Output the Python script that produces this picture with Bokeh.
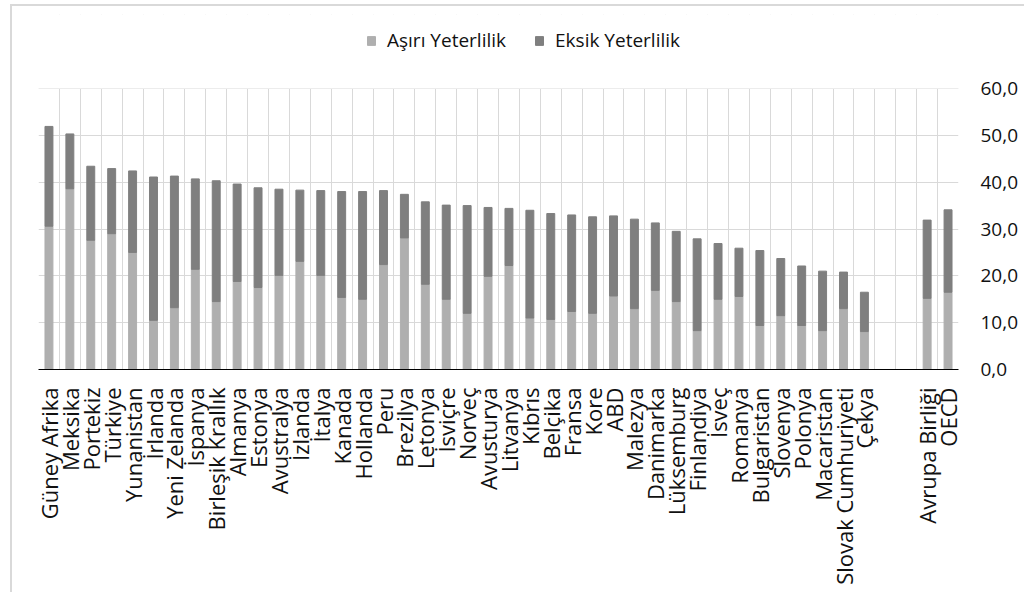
import math
from bokeh.plotting import figure
from bokeh.models import (FactorRange, Range1d, FixedTicker, Legend, LegendItem,
                          ColumnDataSource, BoxAnnotation)
from bokeh.embed import file_html
from bokeh.resources import INLINE

# ---- data -------------------------------------------------------------
countries = ["Güney Afrika", "Meksika", "Portekiz", "Türkiye", "Yunanistan",
             "İrlanda", "Yeni Zelanda", "İspanya", "Birleşik Krallık", "Almanya",
             "Estonya", "Avustralya", "İzlanda", "İtalya", "Kanada",
             "Hollanda", "Peru", "Brezilya", "Letonya", "İsviçre",
             "Norveç", "Avusturya", "Litvanya", "Kıbrıs", "Belçika",
             "Fransa", "Kore", "ABD", "Malezya", "Danimarka",
             "Lüksemburg", "Finlandiya", "İsveç", "Romanya", "Bulgaristan",
             "Slovenya", "Polonya", "Macaristan", "Slovak Cumhuriyeti", "Çekya"]
gap_slots = [" ", "  "]
aggregates = ["Avrupa Birliği", "OECD"]

asiri = [30.6, 38.6, 27.6, 29.0, 25.0,
         10.5, 13.2, 21.4, 14.5, 18.8,
         17.5, 20.1, 23.1, 20.1, 15.4,
         15.0, 22.4, 28.1, 18.2, 15.0,
         12.0, 19.9, 22.2, 11.0, 10.7,
         12.4, 12.0, 15.7, 13.0, 16.9,
         14.5, 8.3, 15.0, 15.6, 9.4,
         11.5, 9.4, 8.3, 13.0, 8.1,
         15.2, 16.5]
eksik = [21.3, 11.7, 15.8, 13.9, 17.4,
         30.6, 28.1, 19.3, 25.8, 20.8,
         21.3, 18.4, 15.2, 18.1, 22.6,
         23.0, 15.8, 9.3, 17.6, 20.1,
         23.0, 14.7, 12.2, 23.0, 22.6,
         20.6, 20.6, 17.1, 19.1, 14.4,
         15.0, 19.6, 11.9, 10.3, 16.0,
         12.2, 12.7, 12.7, 7.8, 8.4,
         16.7, 17.6]
series_names = ["Aşırı Yeterlilik", "Eksik Yeterlilik"]
series_colors = ["#afafaf", "#7f7f7f"]
y_ticks = [0, 10, 20, 30, 40, 50, 60]
y_tick_labels = ["0,0", "10,0", "20,0", "30,0", "40,0", "50,0", "60,0"]

# ---- layout constants -------------------------------------------------
FONT = "Open Sans"
FIG_W, FIG_H = 1014, 588
BORDER_L, BORDER_R, BORDER_T, BORDER_B = 26, 68, 8, 225
FRAME_H = FIG_H - BORDER_T - BORDER_B      # 355 px
AXIS_H = 281                               # px between 0 and the top tick
y_end = y_ticks[-1] * FRAME_H / AXIS_H     # headroom for the legend

factors = countries + gap_slots + aggregates
bar_labels = countries + aggregates

source = ColumnDataSource(dict(x=bar_labels, asiri=asiri, eksik=eksik))

p = figure(width=FIG_W, height=FIG_H, output_backend="svg", toolbar_location=None,
           x_range=FactorRange(factors=factors, range_padding=0),
           y_range=Range1d(y_ticks[0], y_end),
           y_axis_location="right",
           min_border_left=BORDER_L, min_border_right=BORDER_R,
           min_border_top=BORDER_T, min_border_bottom=BORDER_B)
p.outline_line_color = None
p.background_fill_color = "white"
p.border_fill_color = "white"
p.styles = {"margin-left": "10px", "margin-top": "4px",
            "border-top": "2px solid #d9d9d9", "border-left": "2px solid #d9d9d9"}

# grids
p.xgrid.ticker = FixedTicker(ticks=list(range(len(factors) + 1)))
p.xgrid.grid_line_color = "#d9d9d9"
p.xgrid.grid_line_width = 1
p.ygrid.ticker = FixedTicker(ticks=y_ticks)
p.ygrid.grid_line_color = "#d9d9d9"
p.ygrid.grid_line_width = 1

# hide the grid above the top tick (legend area)
p.add_layout(BoxAnnotation(bottom=y_ticks[-1], fill_color="white", fill_alpha=1,
                           line_color=None, level="underlay"))

renderers = p.vbar_stack(["asiri", "eksik"], x="x", width=0.38, source=source,
                         color=series_colors, line_color=series_colors)

# x axis
xa = p.xaxis[0]
xa.major_label_orientation = math.pi / 2
xa.major_tick_line_color = None
xa.minor_tick_line_color = None
xa.axis_line_color = "black"
xa.axis_line_width = 1
xa.major_label_text_font = FONT
xa.major_label_text_font_size = "22px"
xa.major_label_text_color = "#111111"
xa.major_label_standoff = 12

# y axis (right)
ya = p.yaxis[0]
ya.ticker = FixedTicker(ticks=y_ticks)
ya.major_label_overrides = {t: lab for t, lab in zip(y_ticks, y_tick_labels)}
ya.axis_line_color = None
ya.major_tick_line_color = None
ya.minor_tick_line_color = None
ya.major_label_text_font = FONT
ya.major_label_text_font_size = "19px"
ya.major_label_text_color = "#111111"
ya.major_label_standoff = 16

# legend (location = bottom-left corner, px from the frame's bottom-left)
legend = Legend(items=[LegendItem(label=series_names[i], renderers=[renderers[i]])
                       for i in range(2)],
                location=(328, 316), orientation="horizontal",
                border_line_color=None, background_fill_alpha=0,
                padding=0, margin=0, spacing=28, label_standoff=11,
                glyph_width=10, glyph_height=11,
                label_text_font=FONT, label_text_font_size="19px",
                label_text_color="#111111")
p.add_layout(legend)

open("out.html", "w").write(file_html(p, INLINE))
